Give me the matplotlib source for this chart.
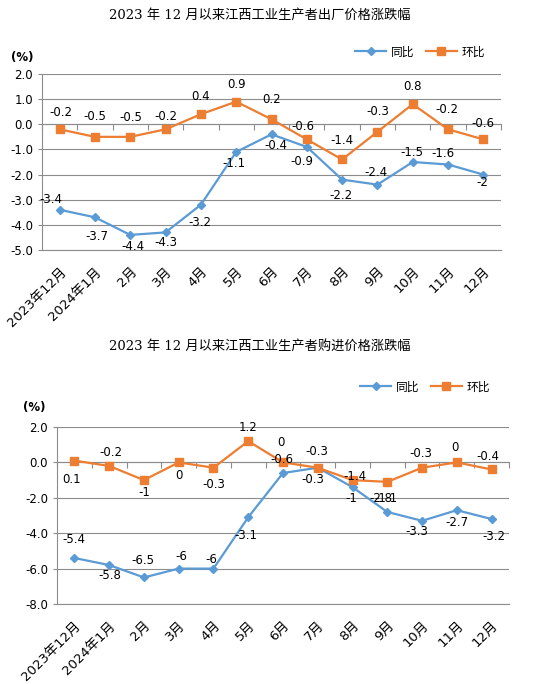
import matplotlib
matplotlib.use("Agg")
from matplotlib import pyplot as plt
import numpy as np

plt.rcParams['font.family'] = ['DejaVu Sans', 'Noto Sans CJK SC']
plt.rcParams['axes.unicode_minus'] = False

months = ["2023年12月", "2024年1月", "2月", "3月", "4月", "5月", "6月",
          "7月", "8月", "9月", "10月", "11月", "12月"]

# 出厂价格
out_yoy = [-3.4, -3.7, -4.4, -4.3, -3.2, -1.1, -0.4, -0.9, -2.2, -2.4, -1.5, -1.6, -2.0]
out_mom = [-0.2, -0.5, -0.5, -0.2, 0.4, 0.9, 0.2, -0.6, -1.4, -0.3, 0.8, -0.2, -0.6]

# 购进价格
in_yoy = [-5.4, -5.8, -6.5, -6.0, -6.0, -3.1, -0.6, -0.3, -1.4, -2.8, -3.3, -2.7, -3.2]
in_mom = [0.1, -0.2, -1.0, 0.0, -0.3, 1.2, 0.0, -0.3, -1.0, -1.1, -0.3, 0.0, -0.4]

title1 = "2023 年 12 月以来江西工业生产者出厂价格涨跌幅"
title2 = "2023 年 12 月以来江西工业生产者购进价格涨跌幅"

# label offsets in pixels (dx, dy up), copied from where the labels sit
off_out_yoy = [(-9, 10), (2, -19), (3, -12), (0, -10), (-1, -18), (-2, -12), (4, -11),
               (-5, -15), (-1, -16), (-1, 12), (-1, 10), (-5, 11), (-1, -8)]
off_out_mom = [(1, 17), (0, 20), (1, 19), (0, 13), (0, 18), (0, 17), (0, 20),
               (-4, 13), (0, 19), (0, 20), (0, 18), (-1, 20), (0, 16)]
off_in_yoy = [(-1, 18), (1, -10), (-1, 17), (3, 12), (-2, 9), (-2, -18), (-1, 14),
              (-5, -12), (2, 11), (-6, 13), (-5, -11), (0, -12), (2, -17)]
off_in_mom = [(-3, -19), (2, 13), (0, -12), (0, -13), (0, -17), (0, 14), (-2, 20),
              (-1, 16), (-1, -18), (-1, -17), (-1, 14), (-2, 15), (-4, 13)]

blue = '#5B9BD5'
orange = '#ED7D31'
grid_c = '#8C8C8C'

W, H = 538, 684
fig = plt.figure(figsize=(W / 100, H / 100), dpi=100)


def px_axes(x0, y0, x1, y1):
    return fig.add_axes([x0 / W, 1 - y1 / H, (x1 - x0) / W, (y1 - y0) / H])


def draw(ax, yoy, mom, off_yoy, off_mom, ylim, leg_xy):
    x = np.arange(len(months))
    ax.plot(x, yoy, color=blue, lw=1.6, marker='D', ms=4.2, label='同比', zorder=3)
    ax.plot(x, mom, color=orange, lw=1.6, marker='s', ms=5.5, label='环比', zorder=3)
    for xi, v, (dx, dy) in zip(x, yoy, off_yoy):
        ax.annotate(f"{v:g}", (xi, v), xytext=(dx, dy), textcoords='offset pixels',
                    ha='center', va='center', fontsize=8.5, zorder=4)
    for xi, v, (dx, dy) in zip(x, mom, off_mom):
        ax.annotate(f"{v:g}", (xi, v), xytext=(dx, dy), textcoords='offset pixels',
                    ha='center', va='center', fontsize=8.5, zorder=4)

    ax.set_xlim(-0.5, len(months) - 0.5)
    ax.set_ylim(*ylim)
    ax.set_yticks(np.arange(ylim[0], ylim[1] + 0.1, 1 if ylim[0] > -6 else 2))
    ax.yaxis.set_major_formatter(matplotlib.ticker.FormatStrFormatter('%.1f'))
    ax.grid(axis='y', color=grid_c, lw=0.8)
    ax.set_axisbelow(True)
    for s in ['top', 'right']:
        ax.spines[s].set_visible(False)
    ax.spines['left'].set_color(grid_c)
    ax.spines['bottom'].set_color(grid_c)
    ax.spines['bottom'].set_linewidth(0.8)
    ax.tick_params(axis='y', colors=grid_c, labelcolor='black', labelsize=8.5,
                   length=3, width=0.8)
    ax.set_xticks(x)
    ax.set_xticklabels(months, rotation=45, ha='right', va='top',
                       rotation_mode='anchor', fontsize=9.5)
    ax.tick_params(axis='x', length=0, pad=11)

    # category axis crossing at zero with tick marks between categories
    zpos = (0 - ylim[0]) / (ylim[1] - ylim[0])
    sec = ax.secondary_xaxis(zpos)
    sec.set_alignment('bottom')
    sec.set_xticks(np.arange(-0.5, len(months)), labels=[])
    sec.tick_params(axis='x', colors=grid_c, length=4, width=0.8, direction='out')
    sec.spines['bottom'].set_color(grid_c)
    sec.spines['bottom'].set_linewidth(0.8)

    ax.legend(loc='center', bbox_to_anchor=(leg_xy[0] / W, 1 - leg_xy[1] / H),
              bbox_transform=fig.transFigure, ncol=2, frameon=False,
              fontsize=8.5, handlelength=2.6, columnspacing=1.0, handletextpad=0.4)


ax1 = px_axes(42, 74, 501, 250)
draw(ax1, out_yoy, out_mom, off_out_yoy, off_out_mom, (-5, 2), (420, 52))
fig.text(260 / W, 1 - 15 / H, title1, ha='center', va='center', fontsize=9.5,
         family=['DejaVu Serif', 'Noto Sans CJK SC'])
fig.text(22 / W, 1 - 57 / H, "(%)", ha='center', va='center', fontsize=8.5,
         fontweight='bold')

ax2 = px_axes(57, 427, 509, 604)
draw(ax2, in_yoy, in_mom, off_in_yoy, off_in_mom, (-8, 2), (425, 387))
fig.text(260 / W, 1 - 347 / H, title2, ha='center', va='center', fontsize=9.5,
         family=['DejaVu Serif', 'Noto Sans CJK SC'])
fig.text(34 / W, 1 - 407 / H, "(%)", ha='center', va='center', fontsize=8.5,
         fontweight='bold')

fig.savefig("out.png", dpi=100)
